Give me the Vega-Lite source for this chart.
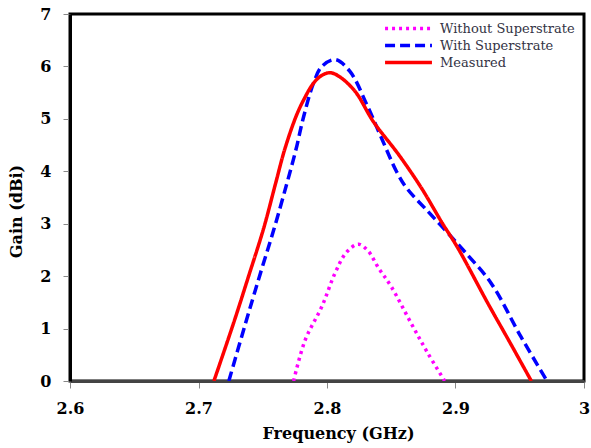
{
  "$schema": "https://vega.github.io/schema/vega-lite/v6.json",
  "width": 514,
  "height": 367,
  "autosize": "none",
  "padding": {"left": 70, "top": 14, "right": 7, "bottom": 67},
  "background": "white",
  "config": {
    "view": {"stroke": "#000000", "strokeWidth": 3},
    "font": "DejaVu Serif",
    "axis": {"labelFont": "DejaVu Serif", "titleFont": "DejaVu Serif"},
    "legend": {"labelFont": "DejaVu Serif"}
  },
  "data": {
    "values": [
      {"s": "Without Superstrate", "f": 2.774, "g": 0},
      {"s": "Without Superstrate", "f": 2.783, "g": 0.78},
      {"s": "Without Superstrate", "f": 2.796, "g": 1.42},
      {"s": "Without Superstrate", "f": 2.8063, "g": 2.06},
      {"s": "Without Superstrate", "f": 2.815, "g": 2.45},
      {"s": "Without Superstrate", "f": 2.8244, "g": 2.61},
      {"s": "Without Superstrate", "f": 2.832, "g": 2.48},
      {"s": "Without Superstrate", "f": 2.84, "g": 2.16},
      {"s": "Without Superstrate", "f": 2.85, "g": 1.8},
      {"s": "Without Superstrate", "f": 2.8655, "g": 1.1},
      {"s": "Without Superstrate", "f": 2.878, "g": 0.55},
      {"s": "Without Superstrate", "f": 2.8916, "g": 0},
      {"s": "With Superstrate", "f": 2.7236, "g": 0},
      {"s": "With Superstrate", "f": 2.7366, "g": 1.1},
      {"s": "With Superstrate", "f": 2.7475, "g": 2.0},
      {"s": "With Superstrate", "f": 2.7585, "g": 2.88},
      {"s": "With Superstrate", "f": 2.7688, "g": 3.77},
      {"s": "With Superstrate", "f": 2.7758, "g": 4.41},
      {"s": "With Superstrate", "f": 2.7818, "g": 5.04},
      {"s": "With Superstrate", "f": 2.7895, "g": 5.68},
      {"s": "With Superstrate", "f": 2.796, "g": 6.0},
      {"s": "With Superstrate", "f": 2.8064, "g": 6.13},
      {"s": "With Superstrate", "f": 2.818, "g": 5.9},
      {"s": "With Superstrate", "f": 2.831, "g": 5.27},
      {"s": "With Superstrate", "f": 2.8425, "g": 4.63},
      {"s": "With Superstrate", "f": 2.854, "g": 4.0},
      {"s": "With Superstrate", "f": 2.862, "g": 3.68},
      {"s": "With Superstrate", "f": 2.8787, "g": 3.23},
      {"s": "With Superstrate", "f": 2.893, "g": 2.85},
      {"s": "With Superstrate", "f": 2.907, "g": 2.47},
      {"s": "With Superstrate", "f": 2.9276, "g": 1.87},
      {"s": "With Superstrate", "f": 2.9508, "g": 0.85},
      {"s": "With Superstrate", "f": 2.9712, "g": 0},
      {"s": "Measured", "f": 2.712, "g": 0},
      {"s": "Measured", "f": 2.7275, "g": 1.12},
      {"s": "Measured", "f": 2.739, "g": 2.0},
      {"s": "Measured", "f": 2.7508, "g": 2.92},
      {"s": "Measured", "f": 2.76, "g": 3.77},
      {"s": "Measured", "f": 2.767, "g": 4.41},
      {"s": "Measured", "f": 2.7758, "g": 5.04},
      {"s": "Measured", "f": 2.7818, "g": 5.36},
      {"s": "Measured", "f": 2.7895, "g": 5.68},
      {"s": "Measured", "f": 2.796, "g": 5.83},
      {"s": "Measured", "f": 2.8027, "g": 5.88},
      {"s": "Measured", "f": 2.81, "g": 5.8},
      {"s": "Measured", "f": 2.822, "g": 5.52},
      {"s": "Measured", "f": 2.836, "g": 4.95},
      {"s": "Measured", "f": 2.856, "g": 4.31},
      {"s": "Measured", "f": 2.8735, "g": 3.68},
      {"s": "Measured", "f": 2.889, "g": 3.04},
      {"s": "Measured", "f": 2.902, "g": 2.53},
      {"s": "Measured", "f": 2.925, "g": 1.49},
      {"s": "Measured", "f": 2.942, "g": 0.75},
      {"s": "Measured", "f": 2.959, "g": 0}
    ]
  },
  "mark": {"type": "line", "interpolate": "catmull-rom", "strokeWidth": 3.5, "clip": true},
  "encoding": {
    "x": {
      "field": "f", "type": "quantitative",
      "scale": {"domain": [2.6, 3.0], "nice": false, "zero": false},
      "axis": {
        "values": [2.6, 2.7, 2.8, 2.9, 3.0],
        "labelExpr": "datum.value == 3 ? '3' : format(datum.value, '.1f')",
        "title": "Frequency (GHz)",
        "titleFont": "DejaVu Serif", "titleFontSize": 16, "titleFontWeight": "bold", "titleColor": "#000000",
        "titleX": 268, "titleY": 52, "titleBaseline": "middle",
        "labelFont": "DejaVu Serif", "labelFontSize": 16, "labelFontWeight": "bold", "labelColor": "#000000",
        "labelPadding": 12, "labelFlush": false,
        "tickSize": 7, "tickColor": "#888888", "tickWidth": 1,
        "domainColor": "#444444", "domainWidth": 3,
        "grid": false
      }
    },
    "y": {
      "field": "g", "type": "quantitative",
      "scale": {"domain": [0, 7], "nice": false},
      "axis": {
        "values": [0, 1, 2, 3, 4, 5, 6, 7],
        "title": "Gain  (dBi)",
        "titleFont": "DejaVu Serif", "titleFontSize": 16, "titleFontWeight": "bold", "titleColor": "#000000",
        "titleX": -54, "titleY": 197, "titleBaseline": "middle", "titleAngle": -90, "titleAlign": "center",
        "labelFont": "DejaVu Serif", "labelFontSize": 16, "labelFontWeight": "bold", "labelColor": "#000000",
        "labelPadding": 12, "labelFlush": false,
        "tickSize": 7, "tickColor": "#888888", "tickWidth": 1,
        "domainColor": "#000000", "domainWidth": 3,
        "grid": false
      }
    },
    "color": {
      "field": "s", "type": "nominal",
      "scale": {
        "domain": ["Without Superstrate", "With Superstrate", "Measured"],
        "range": ["#FF00FF", "#0000FF", "#FF0000"]
      },
      "legend": {
        "title": null,
        "orient": "none",
        "legendX": 313,
        "legendY": 6,
        "padding": 0,
        "symbolType": "stroke",
        "symbolSize": 2200,
        "symbolStrokeWidth": 3.5,
        "clipHeight": 17,
        "rowPadding": 0,
        "labelOffset": 6,
        "labelFont": "DejaVu Serif",
        "labelFontSize": 13,
        "labelColor": "#333344",
        "labelLimit": 300
      }
    },
    "strokeDash": {
      "field": "s", "type": "nominal",
      "scale": {
        "domain": ["Without Superstrate", "With Superstrate", "Measured"],
        "range": [[3, 4], [10, 5], [1, 0]]
      },
      "legend": null
    }
  }
}
